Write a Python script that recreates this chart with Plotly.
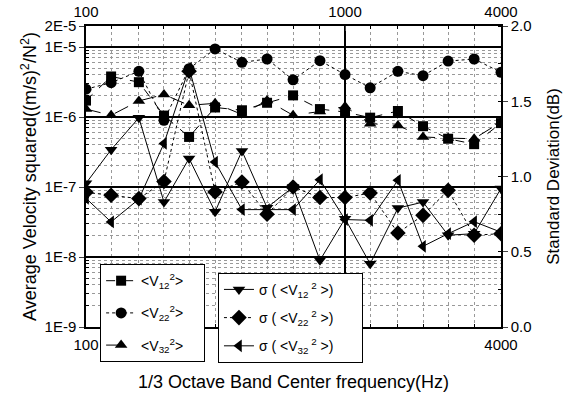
import plotly.graph_objects as go
import numpy as np

freq = [100, 125, 160, 200, 250, 315, 400, 500, 630, 800, 1000, 1250, 1600, 2000, 2500, 3150, 4000]

v12 = [1.72e-6, 3.8e-6, 3.15e-6, 1.05e-6, 5.2e-7, 1.37e-6, 1.25e-6, 1.6e-6, 2.04e-6, 1.3e-6,
       1.18e-6, 9.8e-7, 1.22e-6, 7.4e-7, 4.9e-7, 4.1e-7, 8.2e-7]
v22 = [2.5e-6, 3.1e-6, 4.5e-6, 9.0e-7, 4.9e-6, 9.4e-6, 6.05e-6, 6.75e-6, 3.4e-6, 6.4e-6,
       4.05e-6, 2.62e-6, 4.5e-6, 3.9e-6, 6.3e-6, 6.75e-6, 4.35e-6]
v32 = [1.3e-6, 1.06e-6, 1.7e-6, 2.1e-6, 1.47e-6, 1.57e-6, 1.09e-6, 1.73e-6, 1.06e-6, 1.2e-6,
       1.42e-6, 8.05e-7, 7.6e-7, 5.2e-7, 5.0e-7, 4.9e-7, 8.5e-7]

sd12 = [0.955, 1.178, 1.39, 0.83, 1.12, 0.766, 1.17, 0.793, 0.93, 0.443,
        0.72, 0.42, 0.79, 0.83, 0.61, 0.62, 0.92]
sd22 = [0.895, 0.875, 0.853, 0.967, 1.70, 0.897, 0.963, 0.749, 0.93, 0.86,
        0.86, 0.89, 0.625, 0.742, 0.908, 0.61, 0.62]
sd32 = [0.855, 0.698, 0.85, 1.22, 1.72, 1.096, 0.78, 0.78, 0.78, 0.979,
        0.714, 0.709, 0.975, 0.536, 0.62, 0.70, 0.63]

x_ticks = [100, 1000, 4000]
x_ticktext = ["100", "1000", "4000"]
y_ticks = [1e-9, 1e-8, 1e-7, 1e-6, 1e-5, 2e-5]
y_ticktext = ["1E-9", "1E-8", "1E-7", "1E-6", "1E-5", "2E-5"]
y2_ticks = [0.0, 0.5, 1.0, 1.5, 2.0]
y2_ticktext = ["0.0", "0.5", "1.0", "1.5", "2.0"]

FONT = "Liberation Sans, Arial, sans-serif"
PAD1 = "\u00a0" * 4
PAD2 = "\u00a0" * 6

fig = go.Figure()

def add(y, name, symbol, dash, size, legend, group, xa="x", ya="y"):
    fig.add_trace(go.Scatter(
        x=freq, y=y, name=name, mode="lines+markers",
        line=dict(color="black", width=1, dash=dash),
        marker=dict(symbol=symbol, size=size, color="black"),
        xaxis=xa, yaxis=ya, legend=legend, legendgroup=group))

add(v12, "&lt;V<sub>12</sub><sup>2</sup>&gt;" + PAD1, "square", "dash", 10, "legend", "a")
add(v22, "&lt;V<sub>22</sub><sup>2</sup>&gt;" + PAD1, "circle", "dot", 11, "legend", "b")
add(v32, "&lt;V<sub>32</sub><sup>2</sup>&gt;" + PAD1, "triangle-up", "longdash", 11, "legend", "c")
add(sd12, "σ ( &lt;V<sub>12</sub><sup> 2</sup> &gt;)" + PAD2, "triangle-down", "solid", 11, "legend2", "d", "x2", "y2")
add(sd22, "σ ( &lt;V<sub>22</sub><sup> 2</sup> &gt;)" + PAD2, "diamond", "dot", 12, "legend2", "e", "x2", "y2")
add(sd32, "σ ( &lt;V<sub>32</sub><sup> 2</sup> &gt;)" + PAD2, "triangle-left", "solid", 11, "legend2", "f", "x2", "y2")

xr = [np.log10(100), np.log10(4000)]
minor_y = [m * 10.0 ** e for e in range(-9, -4) for m in range(2, 10)]
minor_y = [v for v in minor_y if v < 2e-5]

fig.update_layout(
    width=570, height=393,
    margin=dict(l=86, r=69, t=26, b=66),
    paper_bgcolor="white", plot_bgcolor="white",
    font=dict(family=FONT, size=15, color="black"),
    showlegend=True,
    xaxis=dict(type="log", range=xr, tickmode="array", tickvals=x_ticks,
               ticktext=x_ticktext, ticks="inside", ticklen=5, ticklabelstandoff=3,
               automargin=False,
               showline=True, linecolor="black", linewidth=1.5,
               showgrid=True, gridcolor="black", gridwidth=1.5,
               minor=dict(tickmode="array", tickvals=freq, showgrid=True,
                          gridcolor="#999", griddash="dot", gridwidth=1,
                          ticks="inside", ticklen=3, tickcolor="black"),
               title=dict(text="1/3 Octave Band Center frequency(Hz)", standoff=24,
                          font=dict(size=18)),
               zeroline=False),
    xaxis2=dict(type="log", range=xr, overlaying="x", side="top", anchor="y2",
                tickmode="array", tickvals=x_ticks, ticktext=x_ticktext,
                ticks="inside", ticklen=5, ticklabelstandoff=1, automargin=False,
                showline=True, linecolor="black", linewidth=1.5,
                showgrid=False,
                minor=dict(tickmode="array", tickvals=freq, ticks="inside", ticklen=3,
                           tickcolor="black")),
    yaxis=dict(type="log", range=[-9, np.log10(2e-5)], tickmode="array",
               tickvals=y_ticks, ticktext=y_ticktext, ticks="outside", ticklen=5,
               automargin=False,
               showline=True, linecolor="black", linewidth=1.5,
               showgrid=True, gridcolor="black", gridwidth=1.5,
               minor=dict(tickmode="array", tickvals=minor_y, showgrid=True,
                          gridcolor="#999", griddash="dot", gridwidth=1,
                          ticks="inside", ticklen=3, tickcolor="black"),
               title=dict(text="Average Velocity squared((m/s)<sup>2</sup>/N<sup>2</sup>)",
                          standoff=3, font=dict(size=18)),
               zeroline=False),
    yaxis2=dict(range=[0, 2], overlaying="y", side="right", anchor="x2",
                tickmode="array", tickvals=y2_ticks, ticktext=y2_ticktext,
                ticks="outside", ticklen=5, automargin=False,
                showline=True, linecolor="black", linewidth=1.5,
                showgrid=False,
                minor=dict(dtick=0.25, ticks="inside", ticklen=3, tickcolor="black"),
                title=dict(text="Standard Deviation(dB)", standoff=16, font=dict(size=17)),
                zeroline=False),
    legend=dict(x=0.034, y=0.209, xanchor="left", yanchor="top",
                bgcolor="white", bordercolor="black", borderwidth=1,
                font=dict(size=14), tracegroupgap=11, itemwidth=30),
    legend2=dict(x=0.318, y=0.18, xanchor="left", yanchor="top",
                 bgcolor="white", bordercolor="black", borderwidth=1,
                 font=dict(size=14), tracegroupgap=7, itemwidth=30),
)

fig.write_html("out.html")
